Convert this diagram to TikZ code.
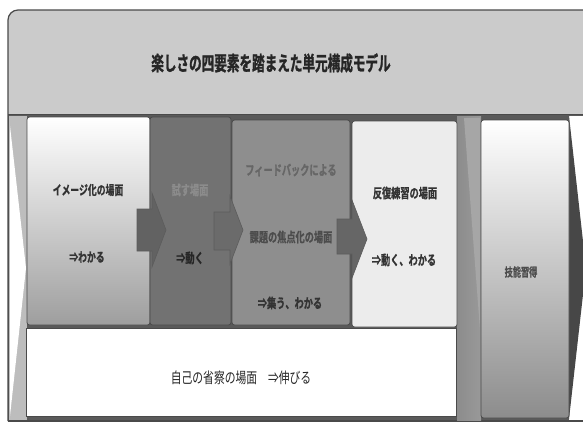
\documentclass[tikz,border=0pt]{standalone}
\usepackage{fontspec}
\newfontfamily\jpt[FakeStretch=0.63,FakeBold=1.2]{Noto Sans CJK JP Bold}
\newfontfamily\jpb[FakeStretch=0.68,FakeBold=0.8]{Noto Sans CJK JP Bold}
\newfontfamily\jpr[FakeStretch=0.72]{Noto Sans CJK JP}
\definecolor{titlegray}{HTML}{CBCBCB}
\definecolor{framegray}{HTML}{5A5A5A}
\definecolor{stripgray}{HTML}{BDBDBD}
\definecolor{boxtwo}{HTML}{727272}
\definecolor{boxthree}{HTML}{8E8E8E}
\definecolor{boxfour}{HTML}{ECECEC}
\definecolor{arrowfill}{HTML}{626262}
\definecolor{edge}{HTML}{4A4A4A}
\tikzset{
  panel/.style={draw=edge,line width=0.8pt,rounded corners=2.5pt},
  blockarrow/.style={fill=arrowfill,draw=edge!90,line width=0.6pt},
  lbl/.style={inner sep=0pt,text=black!80,font=\jpb\fontsize{13.5}{16}\selectfont},
}
\begin{document}
\begin{tikzpicture}[x=1pt,y=-1pt]
\useasboundingbox (0,0) rectangle (583,423);
\fill[white] (0,0) rectangle (583,423);
% frame background
\fill[framegray] (8,113) rectangle (583,421);
% title band
\fill[titlegray] (8,114) -- (8,20) arc[start angle=180,end angle=270,radius=10] -- (583,10) -- (583,114) -- cycle;
\draw[edge,line width=1.2pt] (8,421) -- (8,20) arc[start angle=180,end angle=270,radius=10] -- (583,10);
\draw[edge,line width=1.2pt] (8,114.5) -- (583,114.5);
\draw[edge,line width=1.2pt] (8,421) -- (583,421);
% left strip
\fill[stripgray] (8.6,116) rectangle (27,420.4);
\fill[white] (10,126) -- (26,268) -- (10,416) -- cycle;
% right strip between box4 and box5
\shade[left color=black!45,right color=black!40] (457,116) rectangle (481,420.4);
\fill[black!35] (464,118) -- (480,118) -- (480,330) -- cycle;
% right wedge
\fill[white] (569,116) rectangle (583,420.4);
\fill[black!72] (569,116) -- (586,268) -- (569,419) -- cycle;
% box5
\shade[panel,top color=white,middle color=black!6,bottom color=black!45] (481,120) rectangle (569,418);
% bottom box
\fill[white,draw=edge,line width=1pt] (26,328) rectangle (456,416);
% process boxes
\shade[panel,top color=white,middle color=white,bottom color=black!38] (27,117) rectangle (150,325);
\fill[panel,fill=boxtwo] (150,117) rectangle (231,325);
\fill[panel,fill=boxthree] (232,120) rectangle (350,325);
\fill[panel,fill=boxfour] (352,121) rectangle (457,327);
% block arrows
\path[blockarrow] (137,209) -- (152,209) -- (152,193) -- (166,230) -- (152,267) -- (152,251) -- (137,251) -- cycle;
\path[blockarrow,fill=black!58] (214,212) -- (230,212) -- (230,196) -- (243,230) -- (230,264) -- (230,250) -- (214,250) -- cycle;
\path[blockarrow,fill=black!60] (337,219) -- (352,219) -- (352,200) -- (367,239) -- (352,278) -- (352,254) -- (337,254) -- cycle;
% texts
\node[inner sep=0pt,text=black!85,font=\jpt\fontsize{20}{24}\selectfont] (title) at (271,63) {楽しさの四要素を踏まえた単元構成モデル};
\node[lbl,font=\jpb\fontsize{13}{16}\selectfont] (t1a) at (88,190) {イメージ化の場面};
\node[lbl,font=\jpb\fontsize{13}{16}\selectfont] (t1b) at (87,257) {⇒わかる};
\node[lbl,text=black!45] (t2a) at (190,190) {試す場面};
\node[lbl,text=black!85] (t2b) at (190,258) {⇒動く};
\node[lbl,text=black!60] (t3a) at (291,170) {フィードバックによる};
\node[lbl,text=black!70] (t3b) at (291,237) {課題の焦点化の場面};
\node[lbl,text=black!80] (t3c) at (290,303) {⇒集う、わかる};
\node[lbl] (t4a) at (405,193) {反復練習の場面};
\node[lbl] (t4b) at (404,260) {⇒動く、わかる};
\node[lbl,text=black!70,font=\jpb\fontsize{12}{14}\selectfont] (t5) at (521,272) {技能習得};
\node[inner sep=0pt,text=black!85,font=\jpr\fontsize{15}{18}\selectfont] (tb) at (241,378) {自己の省察の場面　⇒伸びる};
\end{tikzpicture}
\end{document}
